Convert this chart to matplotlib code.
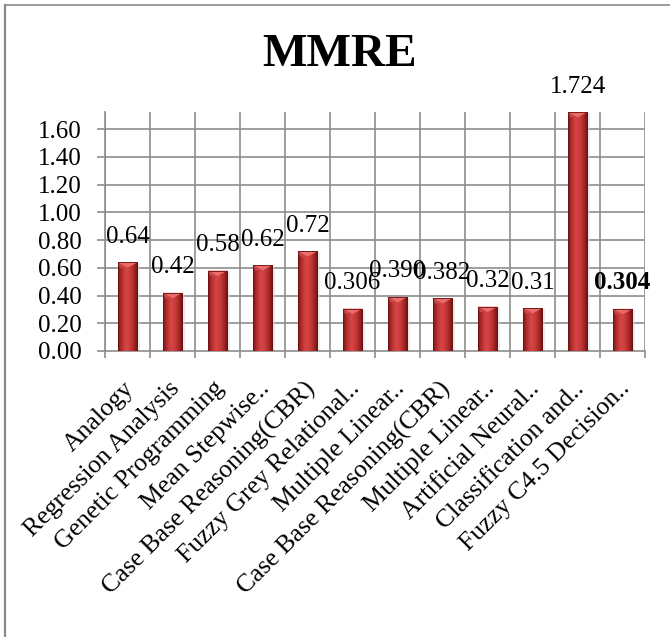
import numpy as np
import matplotlib.pyplot as plt
import matplotlib.transforms as mtransforms
from matplotlib.colors import LinearSegmentedColormap
from matplotlib.lines import Line2D
from matplotlib.patches import Polygon

plt.rcParams['font.family'] = ['Liberation Serif', 'DejaVu Serif']

methods = ['Analogy', 'Regression Analysis', 'Genetic Programming', 'Mean Stepwise..',
           'Case Base Reasoning(CBR)', 'Fuzzy Grey Relational..', 'Multiple Linear..',
           'Case Base Reasoning(CBR)', 'Multiple Linear..', 'Artificial Neural..',
           'Classification and..', 'Fuzzy C4.5 Decision..']
mmre = [0.64, 0.42, 0.58, 0.62, 0.72, 0.306, 0.390, 0.382, 0.32, 0.31, 1.724, 0.304]
value_text = ['0.64', '0.42', '0.58', '0.62', '0.72', '0.306', '0.390', '0.382',
              '0.32', '0.31', '1.724', '0.304']
y_ticks = [0.0, 0.2, 0.4, 0.6, 0.8, 1.0, 1.2, 1.4, 1.6]

fig = plt.figure(figsize=(6.7, 6.37), dpi=100)
ax = fig.add_axes([105 / 670, 1 - 351 / 637, 540 / 670, 239 / 637])

grid_col = '#8e8e8e'
n = len(methods)
x = np.arange(n)
width = 0.44
ax.set_xlim(-0.5, n - 0.5)
ax.set_ylim(0, max(mmre))

# horizontal gradient for a rounded, shaded look on each bar
shade = LinearSegmentedColormap.from_list(
    'shade', ['#7d1717', '#b83030', '#d64646', '#cc3c3c', '#a82828', '#6e1212'])
grad = np.linspace(0, 1, 64).reshape(1, -1)

for xi, v in zip(x, mmre):
    left, right = xi - width / 2, xi + width / 2
    # soft shadow to the right
    ax.bar(xi + 0.06, v - 0.01, width=width, color='#d8d8d8', alpha=0.5, zorder=2)
    bar = ax.bar(xi, v, width=width, color='none', zorder=3)[0]
    im = ax.imshow(grad, cmap=shade, aspect='auto', extent=(left, right, 0, v),
                   zorder=3, interpolation='bicubic')
    im.set_clip_path(bar)
    # bevel on the top edge
    cap = 0.04
    tri = Polygon([(left, v), (right, v), (xi, v - cap)], closed=True,
                  facecolor='#ea6d6b', edgecolor='none', zorder=4)
    ax.add_patch(tri)
    side_l = Polygon([(left, v), (xi, v - cap), (left + 0.06, v - cap)], closed=True,
                     facecolor='#c94545', edgecolor='none', zorder=4)
    ax.add_patch(side_l)
    ax.bar(xi, v, width=width, color='none', edgecolor='#6a1010',
           linewidth=0.6, zorder=5)

# value labels above bars
for i, (xi, v, t) in enumerate(zip(x, mmre, value_text)):
    ax.annotate(t, (xi, v), xytext=(0, 14), textcoords='offset points',
                ha='center', va='baseline', fontsize=18,
                fontweight='bold' if i == n - 1 else 'normal', zorder=6,
                annotation_clip=False)

# gridlines
for yt in y_ticks[1:]:
    ax.axhline(yt, color=grid_col, lw=1.2, zorder=1)
for b in np.arange(-0.5, n, 1.0):
    ax.axvline(b, color=grid_col, lw=1.2, zorder=1)

ax.set_yticks(y_ticks)
ax.set_yticklabels([f'{t:.2f}' for t in y_ticks], fontsize=18)
ax.set_xticks(x)
ax.set_xticklabels(methods, rotation=45, ha='right', rotation_mode='anchor', fontsize=18.5)
ax.tick_params(axis='x', length=0, pad=19)
shift = mtransforms.ScaledTranslation(-3 / 72, 0, fig.dpi_scale_trans)
for lbl in ax.get_xticklabels():
    lbl.set_transform(lbl.get_transform() + shift)
ax.set_xticks(np.arange(-0.5, n, 1.0), minor=True)
ax.tick_params(axis='x', which='minor', length=5, width=1.2, color=grid_col)
ax.tick_params(axis='y', length=6, width=1.2, color=grid_col, pad=11)

for s in ['top', 'right']:
    ax.spines[s].set_visible(False)
for s in ['left', 'bottom']:
    ax.spines[s].set_color(grid_col)
    ax.spines[s].set_linewidth(1.2)

fig.text(340 / 670, 1 - 55 / 637, 'MMRE', ha='center', va='center',
         fontsize=34, fontweight='bold')

# chart area frame (top and left edges)
fig.add_artist(Line2D([4.5 / 670, 4.5 / 670], [0, 1 - 4.5 / 637],
                      transform=fig.transFigure, color='#8a8a8a', lw=1.6))
fig.add_artist(Line2D([4.5 / 670, 1], [1 - 4.5 / 637, 1 - 4.5 / 637],
                      transform=fig.transFigure, color='#8a8a8a', lw=1.2))

fig.savefig('out.png', dpi=100, facecolor='white')
